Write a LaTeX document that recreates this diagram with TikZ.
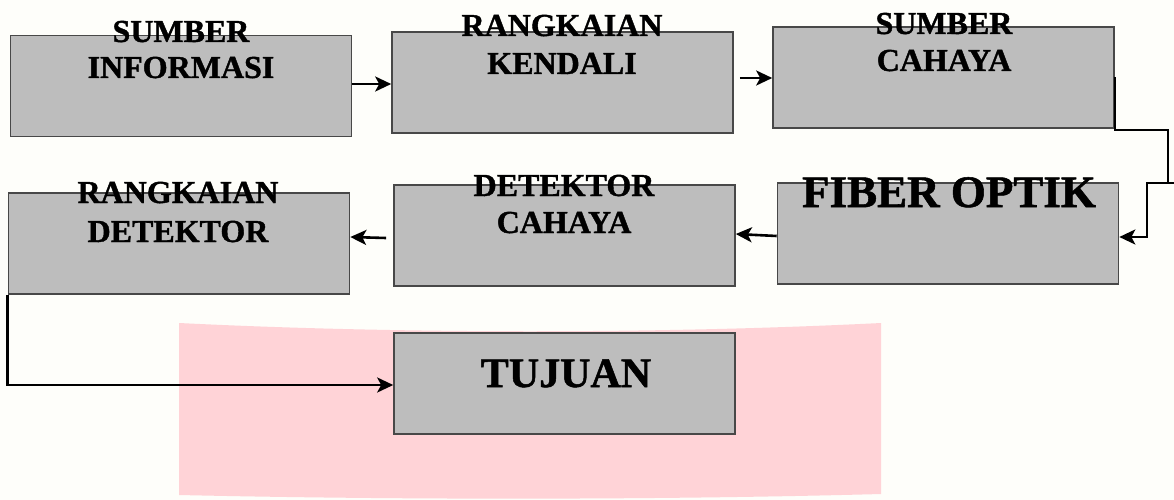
\documentclass[tikz,border=0pt]{standalone}
\usepackage{fontspec}
\setmainfont{Liberation Serif}[BoldFeatures={FakeBold=1.2}]
\usetikzlibrary{arrows.meta}
\definecolor{bg}{RGB}{254,254,250}
\definecolor{boxfill}{RGB}{189,189,189}
\definecolor{boxline}{RGB}{72,72,72}
\definecolor{pinkwm}{RGB}{255,211,215}
\begin{document}
\begin{tikzpicture}[x=1pt,y=-1pt,
  blk/.style={draw=boxline,line width=1.6pt,fill=boxfill,inner sep=0pt,
              minimum width=341pt,minimum height=101pt},
  lbl/.style={font=\bfseries\fontsize{32}{37}\selectfont,anchor=base,inner sep=0pt},
  biglbl/.style={font=\bfseries\fontsize{45}{50}\selectfont,anchor=base,inner sep=0pt},
  midlbl/.style={font=\bfseries\fontsize{42}{48}\selectfont,anchor=base,inner sep=0pt},
  arr/.style={draw=black,line width=2.6pt,-{Stealth[length=16pt,width=15pt,inset=4pt]}},
  wire/.style={draw=black,line width=2.4pt}]
% background
\fill[bg] (0,0) rectangle (1174,500);
\useasboundingbox (0,0) rectangle (1174,500);
% watermark
\fill[pinkwm] (179,323) .. controls (400,334) and (660,334) .. (881,323)
  -- (881,494) .. controls (660,500) and (400,500) .. (179,495) -- cycle;
% boxes
\node[blk] (b1) at (181,86) {};
\node[blk] (b2) at (562.5,82.5) {};
\node[blk] (b3) at (943.5,77.5) {};
\node[blk] (b4) at (948,233.5) {};
\node[blk] (b5) at (564.5,235.5) {};
\node[blk] (b6) at (179,243.5) {};
\node[blk] (b7) at (564.5,383.5) {};
% labels
\node[lbl] (t1a) at (181,42) {SUMBER};
\node[lbl] (t1b) at (181,78) {INFORMASI};
\node[lbl] (t2a) at (562,36) {RANGKAIAN};
\node[lbl] (t2b) at (562,74) {KENDALI};
\node[lbl] (t3a) at (944,34) {SUMBER};
\node[lbl] (t3b) at (944,71) {CAHAYA};
\node[biglbl] (t4) at (949,207) {FIBER OPTIK};
\node[lbl] (t5a) at (564,196) {DETEKTOR};
\node[lbl] (t5b) at (564,233) {CAHAYA};
\node[lbl] (t6a) at (178,203) {RANGKAIAN};
\node[lbl] (t6b) at (178,242) {DETEKTOR};
\node[midlbl] (t7) at (566,387) {TUJUAN};
% connectors
\coordinate (c1) at (1168,130);
\coordinate (c2) at (1168,183);
\coordinate (c3) at (1174,183);
\coordinate (c4) at (1147,183);
\draw[arr] (b1.east |- 0,84) -- (b2.west |- 0,84);
\draw[arr] ([xshift=6pt]b2.east |- 0,78) -- (b3.west |- 0,78);
\draw[wire] (b3.east |- 0,77) -- (b3.east |- 0,130) -- (c1) -- (c2);
\draw[arr] (c3) -- (c4) -- (c4 |- 0,237) -- (b4.east |- 0,237);
\draw[arr] (b4.west |- 0,236) -- ([yshift=2pt]b5.east |- 0,236);
\draw[arr] ([xshift=-7pt]b5.west |- 0,238) -- ([yshift=1pt]b6.east |- 0,238);
\draw[arr] (b6.south west) -- (b6.south west |- 0,385) -- (b7.west |- 0,385);
\end{tikzpicture}
\end{document}
